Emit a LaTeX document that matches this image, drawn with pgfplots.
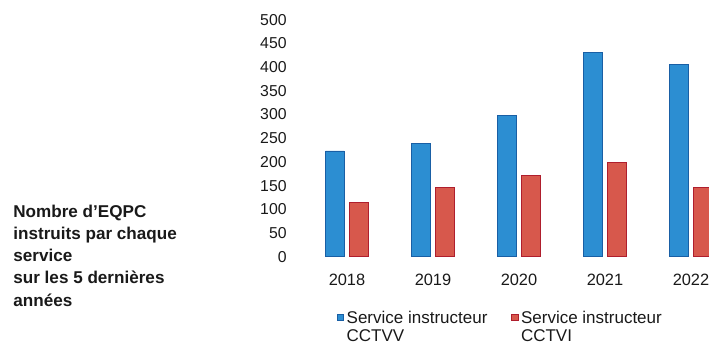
\documentclass[border=0pt]{standalone}
\usepackage{fontspec}
\setmainfont{Liberation Sans}
\usepackage{pgfplots}
\pgfplotsset{compat=1.18}
\definecolor{cblue}{RGB}{44,142,210}
\definecolor{cblueE}{RGB}{25,95,165}
\definecolor{cred}{RGB}{215,88,76}
\definecolor{credE}{RGB}{175,30,45}
\definecolor{txt}{RGB}{25,25,25}
\begin{document}
\begin{tikzpicture}
\begin{axis}[
  at={(152pt,-128.35pt)}, anchor=south west,
  scale only axis, width=215pt, height=118.55pt,
  xmin=-0.5, xmax=4.5, ymin=0, ymax=500,
  ybar, bar width=9.25pt,
  axis line style={draw=none}, tick style={draw=none},
  xtick=data, xticklabels={2018,2019,2020,2021,2022},
  ytick={0,50,...,500},
  /pgf/number format/assume math mode=true,
  yticklabel style={font=\fontsize{7.9}{9}\selectfont, text=txt, inner sep=0pt, anchor=east},
  xticklabel style={font=\fontsize{8.2}{9}\selectfont, text=txt, inner sep=0pt, anchor=north},
  yticklabel shift=8.5pt, xticklabel shift=4pt,
  legend style={at={(0.076,-0.226)}, anchor=north west, draw=none, fill=none, inner sep=0pt,
    font=\fontsize{8.5}{9.15}\selectfont, text=txt, legend columns=2,
    nodes={inner sep=0pt, anchor=base west},
    /tikz/every even column/.append style={column sep=12pt},
    /tikz/every odd column/.append style={column sep=1.2pt}},
  legend image code/.code={\fill[#1] (0pt,1.4pt) rectangle (3.2pt,4.6pt);},
]
\addplot[fill=cblue, draw=cblueE, /pgf/bar shift=-6pt] coordinates {(0,223) (1,239) (2,298) (3,430) (4,405)};
\addlegendentry{\begin{tabular}[t]{@{}l@{}}Service instructeur\\CCTVV\end{tabular}}
\addplot[fill=cred, draw=credE, /pgf/bar shift=6pt] coordinates {(0,114) (1,146) (2,172) (3,198) (4,146)};
\addlegendentry{\begin{tabular}[t]{@{}l@{}}Service instructeur\\CCTVI\end{tabular}}
\end{axis}
\node[anchor=base west, inner sep=0pt, font=\bfseries\fontsize{8.55}{11.1}\selectfont, text=txt] at (6.5pt,-108.6pt)
  {\begin{tabular}[t]{@{}l@{}}Nombre d'EQPC\\instruits par chaque\\service\\sur les 5 dernières\\années\end{tabular}};
\pgfresetboundingbox
\path[use as bounding box] (0pt,0pt) rectangle (354.5pt,-172pt);
\end{tikzpicture}
\end{document}
